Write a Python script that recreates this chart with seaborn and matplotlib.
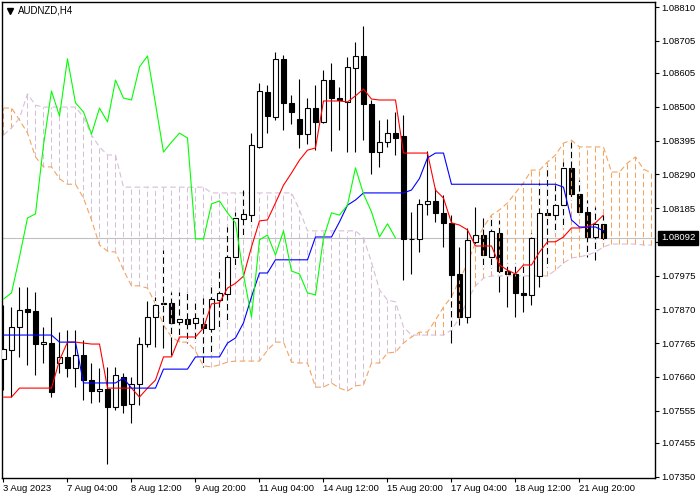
"""
AUDNZD H4 candles with Ichimoku, redrawn in the MetaTrader look.
"""

import numpy as np
import matplotlib
matplotlib.use("Agg")
import matplotlib.pyplot as plt
import seaborn as sns

# H4 bars, 3 Aug 2023 20:00 .. 22 Aug 2023 08:00
open_ = [1.07716, 1.07743, 1.07815, 1.07871, 1.07865, 1.07762, 1.07765, 1.07703, 1.07722, 1.07688,
         1.07728, 1.07650, 1.07616, 1.07622, 1.07566, 1.07660, 1.07576, 1.07638, 1.07762, 1.07846,
         1.07890, 1.07890, 1.07831, 1.07840, 1.07828, 1.07825, 1.07809, 1.07899, 1.07918, 1.08033,
         1.08151, 1.08163, 1.08375, 1.08546, 1.08468, 1.08649, 1.08512, 1.08462, 1.08415, 1.08496,
         1.08453, 1.08583, 1.08527, 1.08515, 1.08620, 1.08658, 1.08509, 1.08359, 1.08390, 1.08418,
         1.08409, 1.08089, 1.08089, 1.08198, 1.08207, 1.08170, 1.08139, 1.07980, 1.07846, 1.08080,
         1.08101, 1.08033, 1.08107, 1.07989, 1.07980, 1.07921, 1.07915, 1.07974, 1.08170, 1.08163,
         1.08194, 1.08310, 1.08229, 1.08173, 1.08095, 1.08136]
high = [1.07884, 1.07877, 1.07939, 1.07939, 1.07924, 1.07815, 1.07846, 1.07799, 1.07806, 1.07806,
        1.07774, 1.07703, 1.07688, 1.07691, 1.07691, 1.07672, 1.07660, 1.07784, 1.07896, 1.07909,
        1.08055, 1.07924, 1.07924, 1.07924, 1.07899, 1.07905, 1.07946, 1.07992, 1.08126, 1.08173,
        1.08241, 1.08418, 1.08574, 1.08568, 1.08670, 1.08661, 1.08537, 1.08586, 1.08527, 1.08568,
        1.08614, 1.08636, 1.08561, 1.08655, 1.08701, 1.08751, 1.08521, 1.08459, 1.08462, 1.08484,
        1.08474, 1.08173, 1.08213, 1.08362, 1.08247, 1.08226, 1.08163, 1.08064, 1.08123, 1.08188,
        1.08154, 1.08157, 1.08148, 1.08014, 1.08014, 1.08008, 1.08107, 1.08263, 1.08316, 1.08256,
        1.08328, 1.08390, 1.08272, 1.08210, 1.08188, 1.08163]
low = [1.07619, 1.07597, 1.07722, 1.07697, 1.07666, 1.07703, 1.07597, 1.07672, 1.07660, 1.07628,
       1.07588, 1.07579, 1.07582, 1.07389, 1.07557, 1.07548, 1.07517, 1.07572, 1.07753, 1.07753,
       1.07750, 1.07728, 1.07781, 1.07765, 1.07768, 1.07691, 1.07728, 1.07806, 1.07828, 1.07999,
       1.08092, 1.08132, 1.08372, 1.08418, 1.08459, 1.08428, 1.08446, 1.08372, 1.08384, 1.08365,
       1.08450, 1.08362, 1.08428, 1.08359, 1.08359, 1.08396, 1.08291, 1.08313, 1.08375, 1.08350,
       1.07961, 1.07980, 1.08048, 1.08163, 1.08142, 1.08064, 1.07765, 1.07821, 1.07828, 1.08064,
       1.07999, 1.07999, 1.07924, 1.07877, 1.07846, 1.07862, 1.07884, 1.07939, 1.08002, 1.08107,
       1.08123, 1.08210, 1.08167, 1.08033, 1.08023, 1.08077]
close = [1.07747, 1.07815, 1.07868, 1.07862, 1.07762, 1.07768, 1.07613, 1.07722, 1.07688, 1.07728,
         1.07650, 1.07616, 1.07622, 1.07566, 1.07666, 1.07572, 1.07638, 1.07762, 1.07846, 1.07884,
         1.07887, 1.07828, 1.07840, 1.07825, 1.07843, 1.07812, 1.07902, 1.07921, 1.08033, 1.08154,
         1.08167, 1.08381, 1.08549, 1.08471, 1.08649, 1.08512, 1.08484, 1.08415, 1.08496, 1.08453,
         1.08583, 1.08527, 1.08521, 1.08624, 1.08658, 1.08509, 1.08359, 1.08390, 1.08418, 1.08403,
         1.08089, 1.08089, 1.08198, 1.08207, 1.08170, 1.08139, 1.07977, 1.07846, 1.08086, 1.08101,
         1.08039, 1.08114, 1.07989, 1.07980, 1.07921, 1.07915, 1.08092, 1.08170, 1.08163, 1.08194,
         1.08310, 1.08229, 1.08173, 1.08095, 1.08136, 1.08092]

# Ichimoku lines as shown on the chart
tenkan = [1.07597, 1.07597, 1.07625, 1.07625, 1.07625, 1.07625, 1.07625, 1.07712, 1.07768, 1.07768,
          1.07765, 1.07762, 1.07762, 1.07625, 1.07625, 1.07625, 1.07625, 1.07597, 1.07625, 1.07650,
          1.07722, 1.07722, 1.07784, 1.07784, 1.07784, 1.07812, 1.07887, 1.07890, 1.07936, 1.07951,
          1.07973, 1.08064, 1.08145, 1.08148, 1.08201, 1.08256, 1.08294, 1.08334, 1.08365, 1.08372,
          1.08518, 1.08518, 1.08518, 1.08515, 1.08534, 1.08555, 1.08524, 1.08521, 1.08521, 1.08521,
          1.08356, 1.08356, 1.08356, 1.08356, 1.08241, 1.08216, 1.08139, 1.08132, 1.08117, 1.08067,
          1.08067, 1.08067, 1.08008, 1.07992, 1.07980, 1.08008, 1.08008, 1.08048, 1.08080, 1.08080,
          1.08095, 1.08123, 1.08123, 1.08126, 1.08139, 1.08163]
kijun = [1.07790, 1.07790, 1.07790, 1.07790, 1.07790, 1.07790, 1.07790, 1.07768, 1.07768, 1.07768,
         1.07641, 1.07641, 1.07641, 1.07641, 1.07641, 1.07656, 1.07625, 1.07625, 1.07625, 1.07625,
         1.07684, 1.07684, 1.07684, 1.07684, 1.07722, 1.07722, 1.07722, 1.07722, 1.07765, 1.07781,
         1.07828, 1.07909, 1.07983, 1.07983, 1.08024, 1.08024, 1.08024, 1.08024, 1.08024, 1.08095,
         1.08095, 1.08095, 1.08142, 1.08194, 1.08210, 1.08232, 1.08232, 1.08232, 1.08232, 1.08232,
         1.08232, 1.08241, 1.08277, 1.08341, 1.08356, 1.08356, 1.08259, 1.08259, 1.08259, 1.08259,
         1.08259, 1.08259, 1.08259, 1.08259, 1.08259, 1.08259, 1.08259, 1.08259, 1.08259, 1.08259,
         1.08250, 1.08148, 1.08126, 1.08126, 1.08126, 1.08114]
# senkou spans, already placed 26 bars ahead
span_a = [1.08496, 1.08496, 1.08459, 1.08418, 1.08344, 1.08313, 1.08313, 1.08276, 1.08259, 1.08259,
          1.08216, 1.08148, 1.08070, 1.08051, 1.08048, 1.07992, 1.07943, 1.07943, 1.07936, 1.07887,
          1.07821, 1.07784, 1.07768, 1.07768, 1.07740, 1.07694, 1.07691, 1.07697, 1.07706, 1.07709,
          1.07709, 1.07709, 1.07709, 1.07743, 1.07768, 1.07768, 1.07706, 1.07703, 1.07703, 1.07628,
          1.07628, 1.07641, 1.07625, 1.07616, 1.07632, 1.07635, 1.07703, 1.07703, 1.07734, 1.07737,
          1.07765, 1.07784, 1.07799, 1.07799, 1.07837, 1.07877, 1.07909, 1.07961, 1.08014, 1.08077,
          1.08126, 1.08163, 1.08179, 1.08201, 1.08232, 1.08263, 1.08303, 1.08303, 1.08328, 1.08350,
          1.08387, 1.08396, 1.08375, 1.08375, 1.08375, 1.08375, 1.08297, 1.08297, 1.08325, 1.08344,
          1.08306, 1.08294]
span_b = [1.08412, 1.08434, 1.08465, 1.08540, 1.08505, 1.08499, 1.08499, 1.08499, 1.08499, 1.08499,
          1.08468, 1.08412, 1.08375, 1.08350, 1.08350, 1.08250, 1.08250, 1.08250, 1.08250, 1.08250,
          1.08250, 1.08250, 1.08250, 1.08250, 1.08250, 1.08250, 1.08232, 1.08232, 1.08232, 1.08232,
          1.08232, 1.08232, 1.08232, 1.08232, 1.08232, 1.08232, 1.08232, 1.08179, 1.08114, 1.08114,
          1.08114, 1.08114, 1.08114, 1.08114, 1.08114, 1.08092, 1.08017, 1.07930, 1.07899, 1.07893,
          1.07815, 1.07790, 1.07790, 1.07790, 1.07790, 1.07790, 1.07806, 1.07843, 1.07899, 1.07943,
          1.07967, 1.07974, 1.07974, 1.07974, 1.07974, 1.07974, 1.07974, 1.07974, 1.07974, 1.07992,
          1.08014, 1.08030, 1.08033, 1.08039, 1.08048, 1.08064, 1.08073, 1.08073, 1.08073, 1.08073,
          1.08070, 1.08070]

date_labels = ["3 Aug 2023", "7 Aug 04:00", "8 Aug 12:00", "9 Aug 20:00", "11 Aug 04:00",
               "14 Aug 12:00", "15 Aug 20:00", "17 Aug 04:00", "18 Aug 12:00", "21 Aug 20:00"]
price_ticks = [1.08810, 1.08705, 1.08605, 1.08500, 1.08395, 1.08290, 1.08185, 1.08080,
               1.07975, 1.07870, 1.07765, 1.07660, 1.07555, 1.07455, 1.07350]
last_price = 1.08092
symbol = "AUDNZD,H4"

UP_KUMO = "#F4A460"
DOWN_KUMO = "#D8BFD8"
DASH = (0, (5, 3))


def main():
    sns.set_style("white")
    plt.rcParams["font.family"] = ["Liberation Sans", "DejaVu Sans"]

    fig = plt.figure(figsize=(7, 5), dpi=100)
    ax = fig.add_axes([2 / 700, 22 / 500, 653 / 700, 476 / 500])

    o, h, l, c = (np.array(v) for v in (open_, high, low, close))
    a, b = np.array(span_a), np.array(span_b)
    n = len(c)
    bars = np.arange(n)
    cloud_x = np.arange(len(a))
    up = a >= b

    ax.axhline(last_price, color="#C0C0C0", linewidth=0.8, zorder=0.5)

    # kumo hatching
    ax.vlines(cloud_x[up], b[up], a[up], colors=UP_KUMO, linestyles=DASH, linewidth=0.75, zorder=1)
    ax.vlines(cloud_x[~up], a[~up], b[~up], colors=DOWN_KUMO, linestyles=DASH, linewidth=0.75, zorder=1)
    sns.lineplot(x=cloud_x, y=a, ax=ax, color=UP_KUMO, linewidth=0.8, linestyle=DASH, zorder=1.2)
    sns.lineplot(x=cloud_x, y=b, ax=ax, color=DOWN_KUMO, linewidth=0.8, linestyle=DASH, zorder=1.2)

    # wicks, dashed where they run inside the cloud
    ax.vlines(bars, l, h, colors="black", linewidth=0.8, zorder=2)
    lo_c = np.minimum(a[:n], b[:n])
    hi_c = np.maximum(a[:n], b[:n])
    seg_lo = np.maximum(l, lo_c)
    seg_hi = np.minimum(h, hi_c)
    m = seg_hi > seg_lo
    ax.vlines(bars[m], seg_lo[m], seg_hi[m], colors="white", linestyles=(0, (2.5, 4.5)),
              linewidth=1.0, zorder=2.5)

    # bodies
    bull = c >= o
    body_lo = np.minimum(o, c)
    body_h = np.abs(c - o)
    ax.bar(bars[bull], body_h[bull], bottom=body_lo[bull], width=0.55, color="white",
           edgecolor="black", linewidth=0.8, zorder=3)
    ax.bar(bars[~bull], body_h[~bull], bottom=body_lo[~bull], width=0.55, color="black",
           edgecolor="black", linewidth=0.8, zorder=3)
    blo = np.maximum(body_lo, lo_c)
    bhi = np.minimum(body_lo + body_h, hi_c)
    m2 = (~bull) & (bhi > blo)
    cols = np.where(up[:n][m2], UP_KUMO, DOWN_KUMO)
    ax.vlines(bars[m2], blo[m2], bhi[m2], colors=list(cols), linestyles=DASH, linewidth=0.75, zorder=4)

    # tenkan, kijun, chikou
    sns.lineplot(x=bars, y=tenkan, ax=ax, color="#FF0000", linewidth=0.8, zorder=5)
    sns.lineplot(x=bars, y=kijun, ax=ax, color="#0000FF", linewidth=0.8, zorder=5)
    sns.lineplot(x=bars[:n - 26], y=c[26:], ax=ax, color="#00FF00", linewidth=0.8, zorder=5)

    ax.set_xlim(-0.1875, 81.44)
    ax.set_ylim(1.073454, 1.088258)
    ax.set_xlabel("")
    ax.set_ylabel("")

    ax.set_xticks(bars[::8][:len(date_labels)])
    ax.set_xticklabels(date_labels, ha="left")
    ax.set_yticks(price_ticks)
    ax.set_yticklabels([f"{v:.5f}" for v in price_ticks])
    ax.yaxis.tick_right()
    ax.tick_params(axis="y", right=True, left=False, labelright=True, labelleft=False)
    ax.tick_params(axis="x", bottom=True)
    ax.tick_params(axis="both", direction="out", length=3, width=0.8, colors="black",
                   labelsize=6.8, pad=1.5)
    for s in ax.spines.values():
        s.set_color("black")
        s.set_linewidth(1.0)

    ax.plot([0.0115], [0.982], marker="v", markersize=4, color="black",
            transform=ax.transAxes, clip_on=False)
    ax.text(0.0245, 0.982, symbol, transform=ax.transAxes, ha="left", va="center",
            fontsize=7, color="black")

    ax.text(1.009, last_price, f"{last_price:.5f}", transform=ax.get_yaxis_transform(),
            ha="left", va="center", fontsize=6.8, color="white", zorder=10, clip_on=False,
            bbox=dict(boxstyle="square,pad=0.3", fc="black", ec="black"))

    fig.savefig("out.png", dpi=100)
    plt.close(fig)


if __name__ == "__main__":
    main()
